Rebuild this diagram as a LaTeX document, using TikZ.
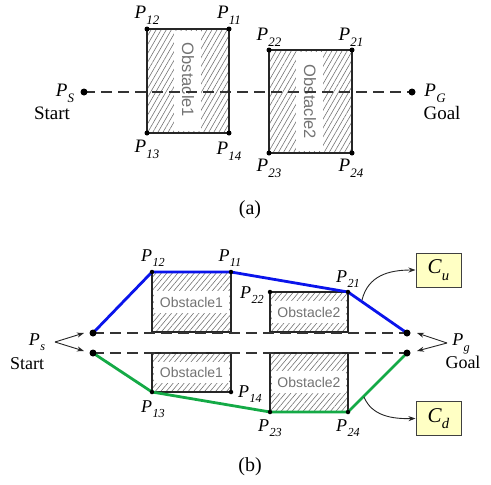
\documentclass[tikz,border=0pt]{standalone}
\usepackage{fontspec}
\usepackage{graphicx}
\setmainfont{Liberation Serif}
\newfontfamily\arialf{Liberation Sans}
\usetikzlibrary{patterns.meta,arrows.meta}
\newcommand{\PL}[1]{\textit{P}\kern0.3pt\raisebox{-0.3em}{\scalebox{0.68}{\textit{#1}}}}
\definecolor{pathblue}{RGB}{10,20,235}
\definecolor{pathgreen}{RGB}{20,170,70}
\definecolor{boxyellow}{RGB}{255,255,196}
\tikzset{
  hatchA/.style={pattern={Lines[angle=60,distance=4.4pt,line width=0.6pt]},pattern color=black!55},
  hatchB/.style={pattern={Lines[angle=50,distance=4.2pt,line width=0.6pt]},pattern color=black!55},
  obsborder/.style={draw=black!85,line width=1.3pt},
  dashline/.style={draw=black!80,line width=1.6pt,dash pattern=on 11pt off 6pt},
  obstext/.style={font=\arialf\fontsize{16.5}{16.5}\selectfont,text=black!55,inner sep=0pt},
  obstextb/.style={font=\arialf\fontsize{14}{14}\selectfont,text=black!55,inner sep=0pt},
  lblA/.style={font=\fontsize{19}{19}\selectfont,inner sep=0pt},
  lblB/.style={font=\fontsize{18}{18}\selectfont,inner sep=0pt},
  enddot/.style={circle,fill=black,inner sep=0pt,minimum size=7pt},
  cdot/.style={circle,fill=black,inner sep=0pt,minimum size=5pt},
  cdotb/.style={circle,fill=black,inner sep=0pt,minimum size=4.5pt},
  cbox/.style={draw=black!75,line width=1pt,fill=boxyellow,minimum width=45pt,minimum height=34pt,inner sep=0pt,font=\fontsize{21}{21}\selectfont},
  pathline/.style={line width=2.8pt,line join=round},
  smallarrow/.style={draw=black!85,line width=0.9pt,-{Stealth[length=7pt,width=5pt]}},
  caption/.style={font=\fontsize{20}{20}\selectfont,inner sep=0pt}
}
\begin{document}
\begin{tikzpicture}[x=1pt,y=-1pt]
\useasboundingbox (0,0) rectangle (491,485);
% ================= (a) =================
\fill[hatchA] (147,29) rectangle (229,133);
\fill[hatchA] (269,50) rectangle (352,153);
\fill[white] (174,31) rectangle (201,131);
\fill[white] (296,52) rectangle (323,151);
\node[obstext,rotate=-90] (oa1) at (188,80) {Obstacle1};
\node[obstext,rotate=-90] (oa2) at (310,102) {Obstacle2};
\coordinate (aPS) at (84,92);
\coordinate (aPG) at (412,92);
\draw[dashline] (aPS) -- (aPG);
\coordinate (a12) at (147,29); \coordinate (a11) at (229,29);
\coordinate (a13) at (147,133); \coordinate (a14) at (229,133);
\coordinate (a22) at (269,50); \coordinate (a21) at (352,50);
\coordinate (a23) at (269,153); \coordinate (a24) at (352,153);
\draw[obsborder] (a12) -- (a11) -- (a14) -- (a13) -- cycle;
\draw[obsborder] (a22) -- (a21) -- (a24) -- (a23) -- cycle;
\foreach \c in {a12,a11,a13,a14,a22,a21,a23,a24} \node[cdot] at (\c) {};
\node[enddot] (dPS) at (aPS) {};
\node[enddot] (dPG) at (aPG) {};
\node[lblA] (la12) at (147,15) {\PL{12}};
\node[lblA] (la11) at (229,15) {\PL{11}};
\node[lblA] (la13) at (147,149) {\PL{13}};
\node[lblA] (la14) at (229,151) {\PL{14}};
\node[lblA] (la22) at (269,37) {\PL{22}};
\node[lblA] (la21) at (351,37) {\PL{21}};
\node[lblA] (la23) at (269,168) {\PL{23}};
\node[lblA] (la24) at (351,168) {\PL{24}};
\node[lblA] (laPS) at (65,93) {\PL{S}};
\node[lblA] (laStart) at (52,113) {Start};
\node[lblA] (laPG) at (435,93) {\PL{G}};
\node[lblA] (laGoal) at (442,113) {Goal};
\node[caption] (capa) at (250,210) {(a)};
% ================= (b) =================
\fill[hatchB] (152,272) rectangle (231,332);
\fill[hatchB] (270,292) rectangle (348,332);
\fill[hatchB] (152,353) rectangle (231,392);
\fill[hatchB] (270,353) rectangle (348,412);
\fill[white] (154,291) rectangle (229,313);
\fill[white] (272,301) rectangle (346,323);
\fill[white] (154,362) rectangle (229,383);
\fill[white] (272,371) rectangle (346,393);
\node[obstextb] (ob1u) at (191.5,302) {Obstacle1};
\node[obstextb] (ob2u) at (309,312) {Obstacle2};
\node[obstextb] (ob1l) at (191.5,372.5) {Obstacle1};
\node[obstextb] (ob2l) at (309,382) {Obstacle2};
\coordinate (psU) at (93,333); \coordinate (psL) at (93,353);
\coordinate (pgU) at (407,333); \coordinate (pgL) at (407,353);
\coordinate (b12) at (152,272); \coordinate (b11) at (231,272);
\coordinate (b22) at (270,292); \coordinate (b21) at (348,292);
\coordinate (b13) at (152,392); \coordinate (b14) at (231,392);
\coordinate (b23) at (270,412); \coordinate (b24) at (348,412);
\draw[obsborder] (b12) -- (b11) -- (231,332) -- (152,332) -- cycle;
\draw[obsborder] (b22) -- (b21) -- (348,332) -- (270,332) -- cycle;
\draw[obsborder] (152,353) -- (231,353) -- (b14) -- (b13) -- cycle;
\draw[obsborder] (270,353) -- (348,353) -- (b24) -- (b23) -- cycle;
\draw[dashline] (psU) -- (pgU);
\draw[dashline] (psL) -- (pgL);
\draw[pathline,pathblue] (psU) -- (b12) -- (b11) -- (b21) -- (pgU);
\draw[pathline,pathgreen] (psL) -- (b13) -- (b23) -- (b24) -- (pgL);
\foreach \c in {b12,b11,b22,b21,b13,b14,b23,b24} \node[cdotb] at (\c) {};
\node[enddot] (dpsU) at (psU) {};
\node[enddot] (dpsL) at (psL) {};
\node[enddot] (dpgU) at (pgU) {};
\node[enddot] (dpgL) at (pgL) {};
\node[lblB] (lb12) at (153,258) {\PL{12}};
\node[lblB] (lb11) at (230,258) {\PL{11}};
\node[lblB] (lb22) at (252,295) {\PL{22}};
\node[lblB] (lb21) at (348,279) {\PL{21}};
\node[lblB] (lb14) at (250,394) {\PL{14}};
\node[lblB] (lb13) at (153,409) {\PL{13}};
\node[lblB] (lb23) at (270,428) {\PL{23}};
\node[lblB] (lb24) at (348,428) {\PL{24}};
\node[lblB] (lbPs) at (37,342) {\PL{s}};
\node[lblB] (lbStart) at (27,364) {Start};
\node[lblB] (lbPg) at (461,344) {\PL{g}};
\node[lblB] (lbGoal) at (463,362) {Goal};
\coordinate (sTail) at (55,342);
\coordinate (sHu) at (84,333);
\coordinate (sHl) at (84,351);
\draw[smallarrow] (sTail) -- (sHu);
\draw[smallarrow] (sTail) -- (sHl);
\coordinate (gTail) at (447,343);
\coordinate (gHu) at (417,333);
\coordinate (gHl) at (417,351);
\draw[smallarrow] (gTail) -- (gHu);
\draw[smallarrow] (gTail) -- (gHl);
\node[cbox] (Cu) at (438.5,270) {\textit{C}\raisebox{-0.3em}{\scalebox{0.7}{\textit{u}}}};
\node[cbox] (Cd) at (438.5,418.5) {\textit{C}\raisebox{-0.3em}{\scalebox{0.7}{\textit{d}}}};
\coordinate (cuStart) at (362,300);
\coordinate (cdStart) at (364,397);
\draw[smallarrow] (cuStart) .. controls (368,276) and (388,270) .. (Cu.west);
\draw[smallarrow] (cdStart) .. controls (372,416) and (392,419) .. (Cd.west);
\node[caption] (capb) at (250,467) {(b)};
\end{tikzpicture}
\end{document}
